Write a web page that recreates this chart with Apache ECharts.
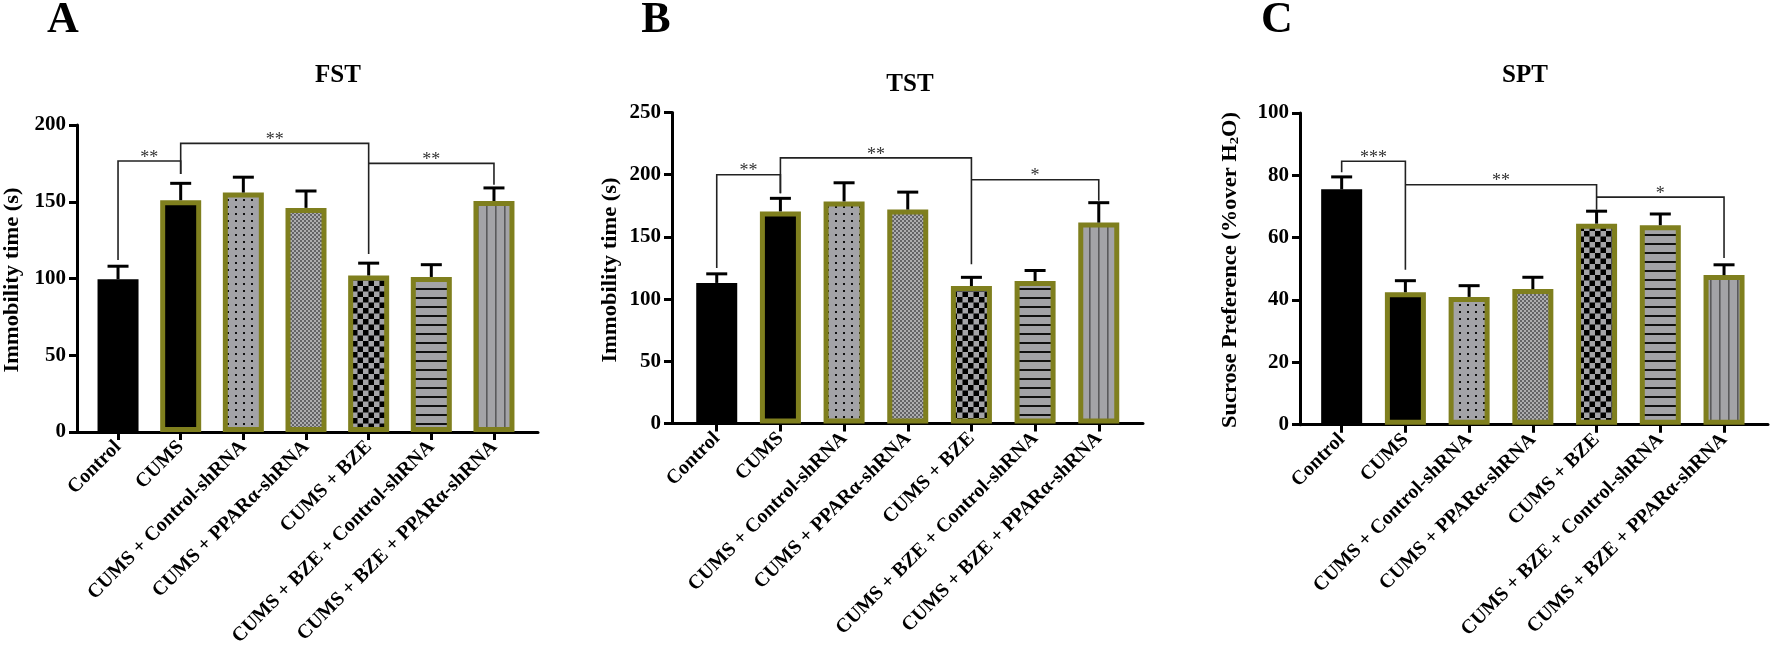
<!DOCTYPE html>
<html><head><meta charset="utf-8">
<script src="https://cdn.jsdelivr.net/npm/echarts@6/dist/echarts.min.js"></script>
<style>html,body{margin:0;padding:0;background:#fff}#c{width:1772px;height:671px}</style>
</head><body><div id="c"></div>
<script>
// ---------------- data ----------------
const categories = ['Control', 'CUMS', 'CUMS + Control-shRNA', 'CUMS + PPAR\u03b1-shRNA',
  'CUMS + BZE', 'CUMS + BZE + Control-shRNA', 'CUMS + BZE + PPAR\u03b1-shRNA'];

const fstMean = [99.5, 151, 156, 146, 102, 101, 150.5];
const fstSem  = [8.5, 11, 10, 11, 8, 8, 8.5];
const tstMean = [113, 170.5, 178.5, 172, 110.5, 114.5, 161.5];
const tstSem  = [7.3, 10.5, 15, 14, 7, 8.5, 16];
const sptMean = [75.5, 42.5, 41, 43.5, 64.5, 64, 48];
const sptSem  = [4, 3.7, 3.6, 3.8, 4, 3.6, 3.3];

const fstTicks = [0, 50, 100, 150, 200];
const tstTicks = [0, 50, 100, 150, 200, 250];
const sptTicks = [0, 20, 40, 60, 80, 100];

// brackets: [fromIndex, toIndex, barLevel, leftLegEnd, rightLegEnd]
const fstBrackets = [[0, 1, 176.5, 112, 168], [1, 4, 188, 168, 116], [4, 6, 175, 175, 161]];
const fstStars = ['**', '**', '**'];
const tstBrackets = [[0, 1, 200, 125, 185], [1, 4, 213.5, 185, 128], [4, 6, 196, 196, 179]];
const tstStars = ['**', '**', '*'];
const sptBrackets = [[0, 1, 84.5, 81, 49.7], [1, 4, 77, 77, 69], [4, 6, 73, 73, 53.5]];
const sptStars = ['***', '**', '*'];

const panelLetters = ['A', 'B', 'C'];
const panelTitles = ['FST', 'TST', 'SPT'];
// y titles: [main part, subscript, tail]
const yTitleParts = [['Immobility time (s)', '', ''], ['Immobility time (s)', '', ''], ['Sucrose Preference (%over H', '2', 'O)']];

// ---------------- styles ----------------
const FONT = '"Liberation Serif", "Times New Roman", serif';
const OLIVE = '#7f7f1e';
const GRAY = '#a3a3a7';

function pattern(w, h, draw) {
  const c = document.createElement('canvas');
  c.width = w; c.height = h;
  const g = c.getContext('2d');
  g.fillStyle = GRAY; g.fillRect(0, 0, w, h);
  draw(g);
  return { image: c, repeat: 'repeat' };
}
const dots = pattern(8, 7, g => { g.fillStyle = '#111'; g.fillRect(3, 3, 2, 2); });
const fineChk = pattern(4, 4, g => { g.fillStyle = '#646466'; g.fillRect(0, 0, 2, 2); g.fillRect(2, 2, 2, 2); g.fillStyle = '#adadaf'; g.fillRect(2, 0, 2, 2); g.fillRect(0, 2, 2, 2); });
const bigChk = pattern(11, 11, g => { g.fillStyle = '#000'; g.fillRect(0, 0, 5.5, 5.5); g.fillRect(5.5, 5.5, 5.5, 5.5); });
const hLines = pattern(4, 9, g => { g.fillStyle = '#111'; g.fillRect(0, 0, 4, 2); });
const vLines = pattern(9, 4, g => { g.fillStyle = '#5a5a5c'; g.fillRect(0, 0, 1.6, 4); });
const fills = ['#000', '#000', dots, fineChk, bigChk, hLines, vLines];
const borders = ['#000', OLIVE, OLIVE, OLIVE, OLIVE, OLIVE, OLIVE];

// text measuring to stretch the letter-spaced y titles to their drawn length
const mctx = document.createElement('canvas').getContext('2d');
function textW(str, font) { mctx.font = font; return mctx.measureText(str).width; }
const YF = 'bold 20px ' + FONT, YSF = 'bold 13px ' + FONT;

const panels = [
  { letterX: 63, letterY: 21, titleX: 338, titleY: 76, yLabelX: 13, yLabelY: 280, yLabelLen: 185,
    outer: { left: 77, top: 125, width: 461, height: 307 }, innerLeft: 86.7, innerWidth: 438.6,
    ticks: fstTicks, mean: fstMean, sem: fstSem, brackets: fstBrackets, stars: fstStars },
  { letterX: 656, letterY: 21, titleX: 910, titleY: 85, yLabelX: 611, yLabelY: 270, yLabelLen: 185,
    outer: { left: 672, top: 112.5, width: 471, height: 311 }, innerLeft: 684.9, innerWidth: 445.7,
    ticks: tstTicks, mean: tstMean, sem: tstSem, brackets: tstBrackets, stars: tstStars },
  { letterX: 1277, letterY: 21, titleX: 1525, titleY: 76, yLabelX: 1231, yLabelY: 270, yLabelLen: 316,
    outer: { left: 1300, top: 113, width: 468, height: 311.7 }, innerLeft: 1309.8, innerWidth: 446.1,
    ticks: sptTicks, mean: sptMean, sem: sptSem, brackets: sptBrackets, stars: sptStars }
];

const grid = [], xAxis = [], yAxis = [], series = [], graphic = [];
panels.forEach((p, k) => {
  const o = p.outer;
  const gi = 2 * k, ii = 2 * k + 1;
  const tMin = p.ticks[0], tMax = p.ticks[p.ticks.length - 1], tInt = p.ticks[1] - p.ticks[0];
  grid.push({ left: o.left, top: o.top, width: o.width, height: o.height });
  grid.push({ left: p.innerLeft, top: o.top, width: p.innerWidth, height: o.height });
  xAxis.push({ gridIndex: gi, type: 'value', min: 0, max: 1,
    axisLine: { show: true, onZero: false, lineStyle: { color: '#000', width: 3 } },
    axisTick: { show: false }, axisLabel: { show: false }, splitLine: { show: false } });
  xAxis.push({ gridIndex: ii, type: 'category', data: categories,
    axisLine: { show: false },
    axisTick: { show: true, alignWithLabel: true, length: 8, lineStyle: { color: '#000', width: 3 } },
    axisLabel: { rotate: 45, interval: 0, margin: 12, color: '#000', fontFamily: FONT, fontWeight: 'bold', fontSize: 20 } });
  yAxis.push({ gridIndex: gi, type: 'value', min: tMin, max: tMax, interval: tInt,
    axisLine: { show: true, lineStyle: { color: '#000', width: 3 } },
    axisTick: { show: true, length: 8, lineStyle: { color: '#000', width: 3 } },
    axisLabel: { color: '#000', fontFamily: FONT, fontWeight: 'bold', fontSize: 21, margin: 11 },
    splitLine: { show: false } });
  yAxis.push({ gridIndex: ii, type: 'value', min: tMin, max: tMax, show: false });

  series.push({ type: 'bar', xAxisIndex: ii, yAxisIndex: ii, barWidth: 41, z: 2, silent: true,
    data: p.mean.map((v, i) => ({ value: v, itemStyle: { color: fills[i], borderColor: borders[i], borderWidth: 5 } })) });

  series.push({ type: 'custom', xAxisIndex: ii, yAxisIndex: ii, z: 3, silent: true,
    encode: { x: 0, y: [1, 2] },
    data: p.mean.map((m, i) => [i, m, m + p.sem[i]]),
    renderItem: (params, api) => {
      const b = api.coord([api.value(0), api.value(1)]);
      const t = api.coord([api.value(0), api.value(2)]);
      return { type: 'group', children: [
        { type: 'line', shape: { x1: b[0], y1: b[1], x2: t[0], y2: t[1] }, style: { stroke: '#000', lineWidth: 3 } },
        { type: 'line', shape: { x1: t[0] - 10.5, y1: t[1], x2: t[0] + 10.5, y2: t[1] }, style: { stroke: '#000', lineWidth: 3 } }
      ] };
    } });

  const stars = p.stars;
  series.push({ type: 'custom', xAxisIndex: ii, yAxisIndex: ii, z: 4, silent: true,
    encode: { x: [0, 1], y: [2, 3, 4] },
    data: p.brackets,
    renderItem: (params, api) => {
      const a = api.value(0), b = api.value(1);
      const lvl = api.value(2), lEnd = api.value(3), rEnd = api.value(4);
      const p1 = api.coord([a, lEnd]), p2 = api.coord([a, lvl]), p3 = api.coord([b, lvl]), p4 = api.coord([b, rEnd]);
      return { type: 'group', children: [
        { type: 'polyline', shape: { points: [p1, p2, p3, p4] }, style: { stroke: '#222', lineWidth: 1.6, fill: null } },
        { type: 'text', x: (p2[0] + p3[0]) / 2, y: p2[1] - 3,
          style: { text: stars[params.dataIndex], font: '18px ' + FONT, fill: '#333', align: 'center', verticalAlign: 'middle' } }
      ] };
    } });

  graphic.push({ type: 'text', x: p.letterX, y: p.letterY, silent: true,
    style: { text: panelLetters[k], font: 'bold 44px ' + FONT, fill: '#000', align: 'center', verticalAlign: 'middle' } });
  graphic.push({ type: 'text', x: p.titleX, y: p.titleY, silent: true,
    style: { text: panelTitles[k], font: 'bold 25px ' + FONT, fill: '#000', align: 'center', verticalAlign: 'middle' } });

  const parts = yTitleParts[k];
  const natural = textW(parts[0] + parts[2], YF) + (parts[1] ? textW(parts[1], YSF) : 0);
  const sx = p.yLabelLen / natural;
  const richText = parts[1] ? '{a|' + parts[0] + '}{s|' + parts[1] + '}{a|' + parts[2] + '}' : '{a|' + parts[0] + '}';
  graphic.push({ type: 'text', x: p.yLabelX, y: p.yLabelY, rotation: Math.PI / 2, scaleX: sx, scaleY: 1, silent: true,
    style: { text: richText, font: YF, fill: '#000', align: 'center', verticalAlign: 'middle',
      rich: { a: { fontFamily: FONT, fontWeight: 'bold', fontSize: 20, fill: '#000' },
              s: { fontFamily: FONT, fontWeight: 'bold', fontSize: 13, fill: '#000', verticalAlign: 'bottom', padding: [6, 0, 0, 0] } } } });
});

const chart = echarts.init(document.getElementById('c'), null, { renderer: 'canvas' });
chart.setOption({ backgroundColor: '#fff', animation: false, grid, xAxis, yAxis, series, graphic });
</script></body></html>
